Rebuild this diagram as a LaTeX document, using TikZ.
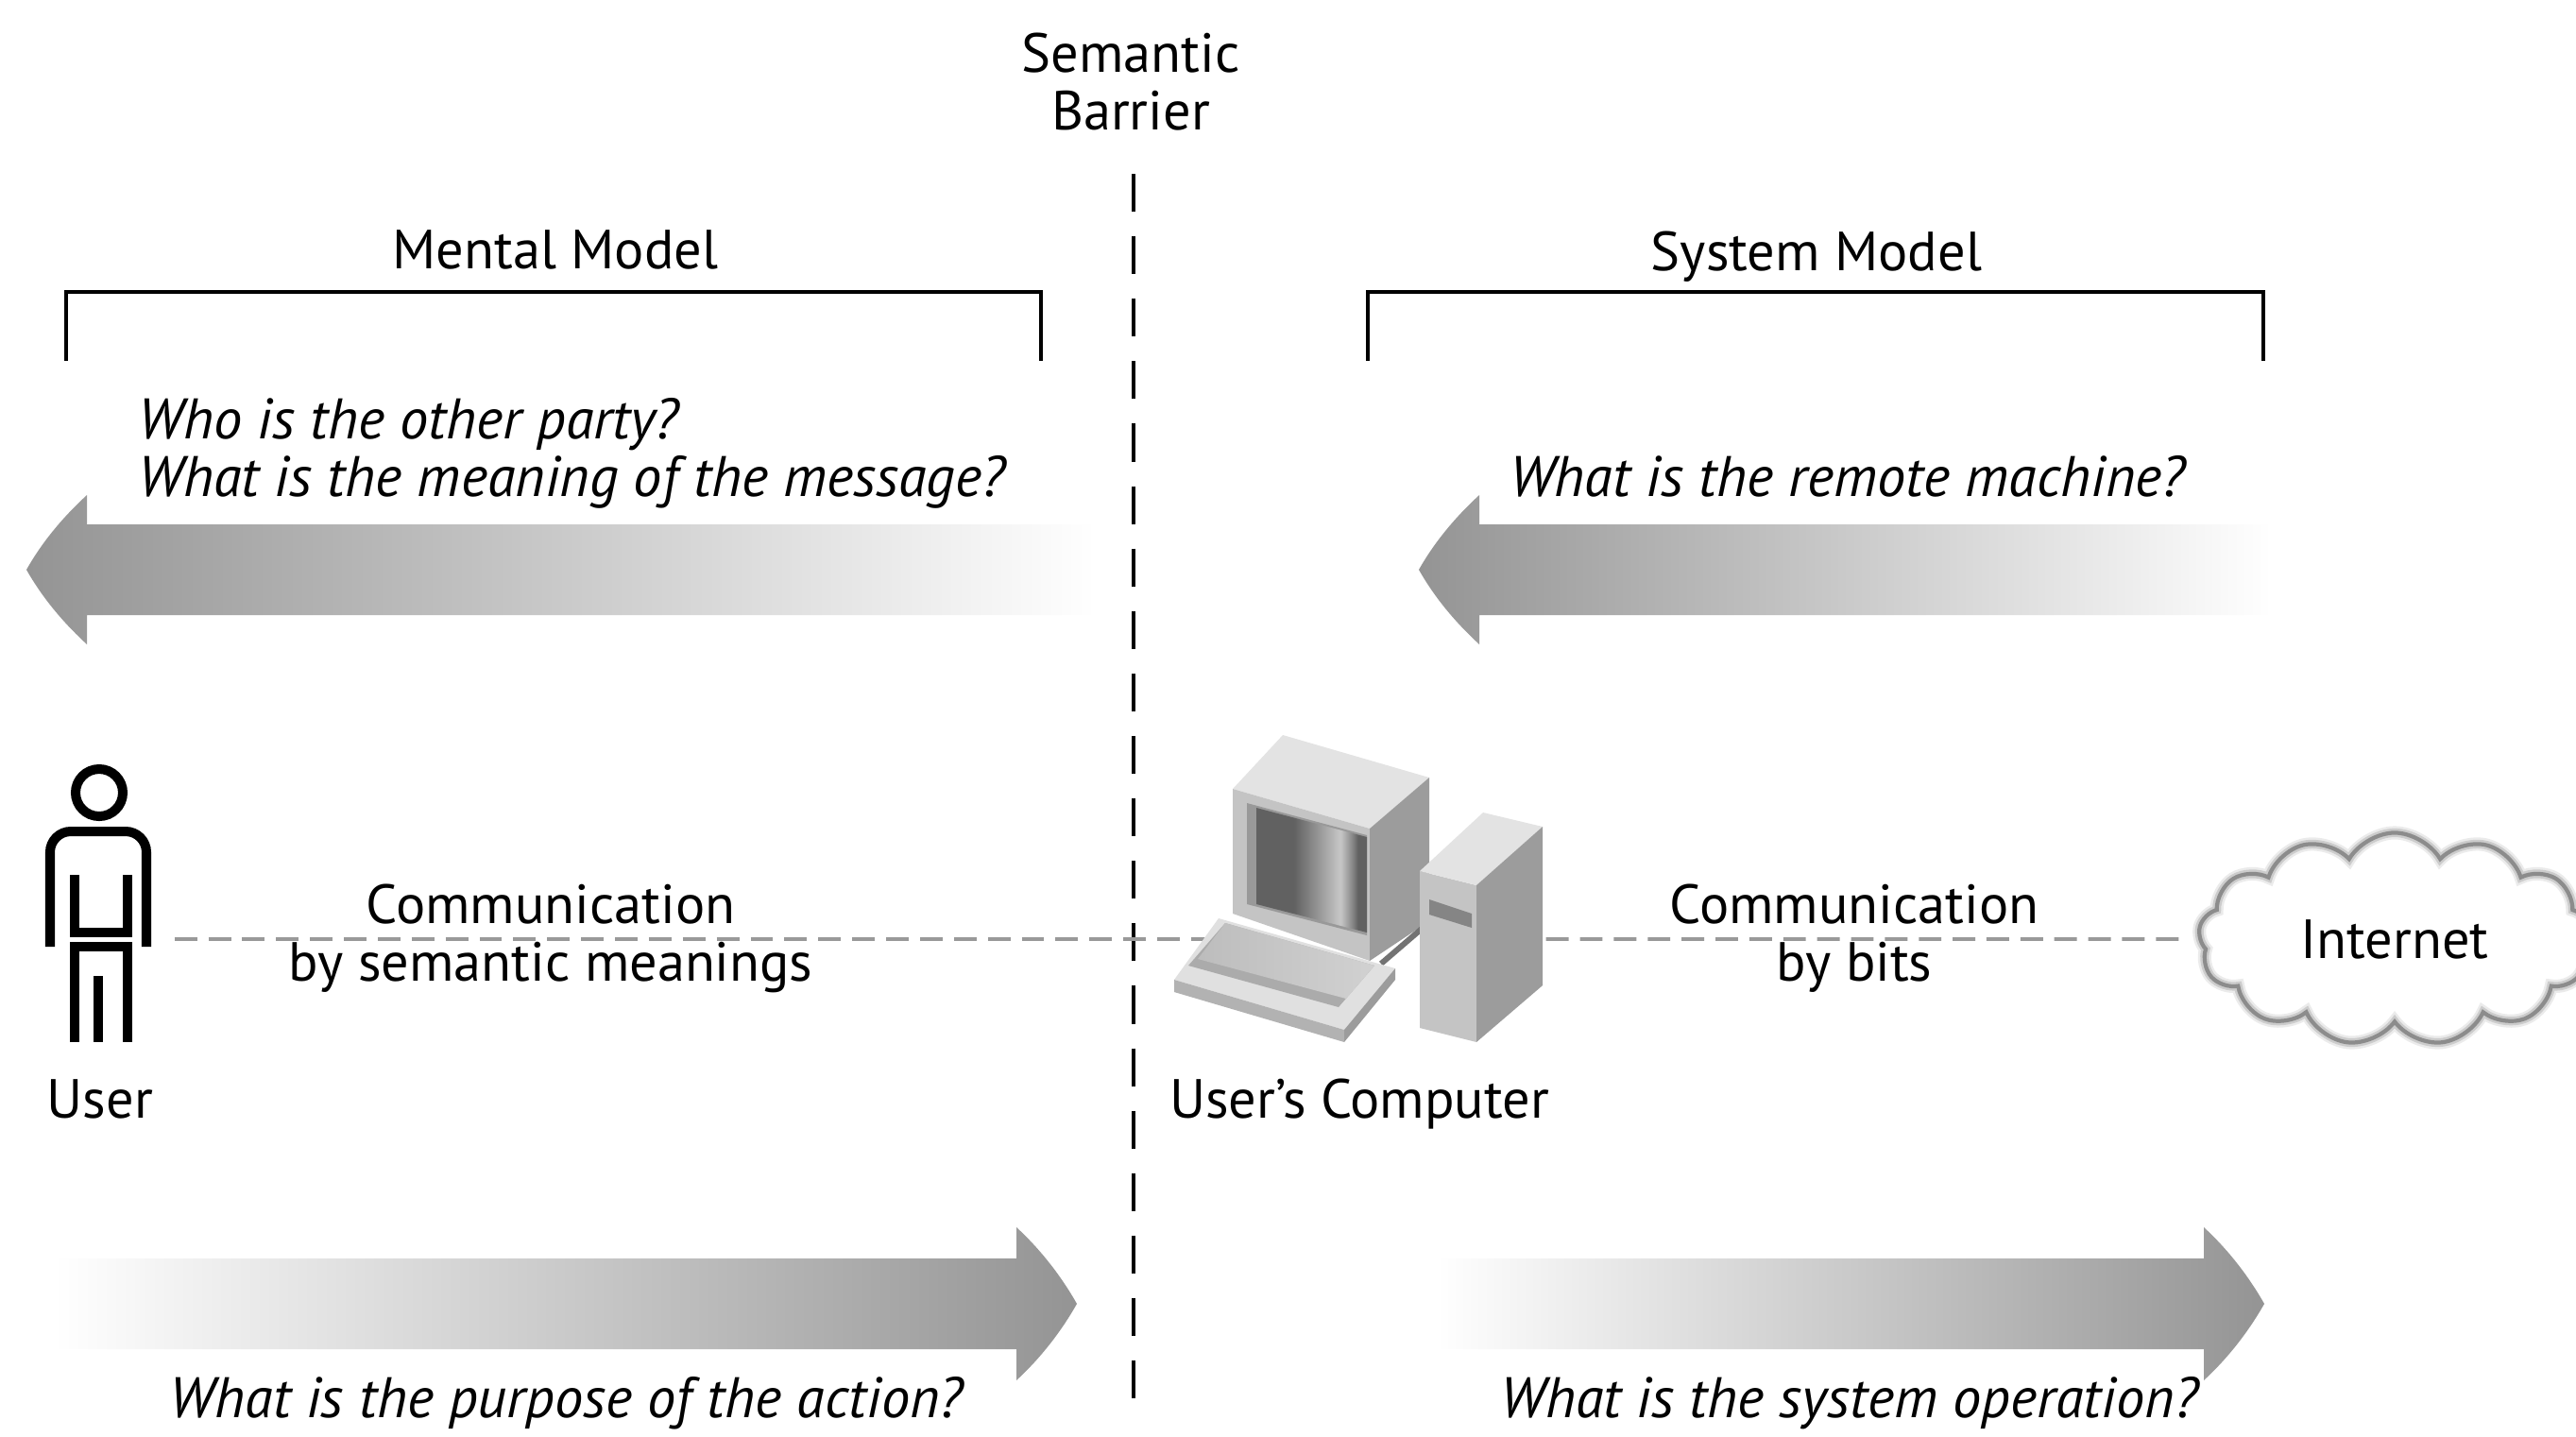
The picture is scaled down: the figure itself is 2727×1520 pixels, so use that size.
\documentclass[tikz,border=0pt]{standalone}
\usepackage{fontspec}
\setmainfont{PT Sans}
\usetikzlibrary{positioning, shapes.symbols}

\definecolor{pctop}{gray}{0.89}
\definecolor{pcfront}{gray}{0.77}
\definecolor{pcside}{gray}{0.61}
\definecolor{arrowdark}{gray}{0.58}

% screen: dark on the left, bright glare, dark rim on the right
\pgfdeclarehorizontalshading{screenshade}{100bp}{color(0bp)=(black!62); color(42bp)=(black!62); color(63bp)=(black!22); color(68bp)=(black!45); color(71bp)=(black!62); color(100bp)=(black!62)}

\tikzset{
  lbl/.style={inner sep=0pt, align=center, font=\fontsize{16.6}{17.3}\selectfont},
  question/.style={inner sep=0pt, align=left, font=\fontsize{17.2}{17.2}\selectfont\itshape},
  bracket/.style={line width=1.3pt},
  barrier/.style={line width=1.4pt, dash pattern=on 11.4pt off 7.4pt},
  commline/.style={draw=black!40, line width=1.1pt, dash pattern=on 6.8pt off 3.4pt},
  figline/.style={line width=2.85pt},
  netcloud/.style={cloud, cloud puffs=13, cloud puff arc=120, aspect=1.9, inner sep=0pt,
    minimum width=4.15cm, minimum height=2.25cm, font=\fontsize{16.6}{17.3}\selectfont,
    draw=black!45, line width=1.2pt,
    preaction={draw=black!8, line width=4pt}, preaction={draw=black!20, line width=2.6pt}},
}

\begin{document}
\begin{tikzpicture}[x=0.01cm, y=-0.01cm]
  \useasboundingbox (0,0) rectangle (2727,1520);

  % barrier down the middle
  \node[lbl, anchor=base] (sem) at (1197,137) {Semantic\\Barrier};
  \draw[barrier] (1200,184) -- (1200,1492);

  % the two models
  \node[lbl, anchor=base] (mental) at (588,284) {Mental Model};
  \draw[bracket] (70,382) |- (1102,309) -- (1102,382);
  \node[lbl, anchor=base] (system) at (1923,286) {System Model};
  \draw[bracket] (1448,382) |- (2396,309) -- (2396,382);

  % questions
  \node[question, anchor=base west] (who) at (146,525) {Who is the other party?\\What is the meaning of the message?};
  \node[question, anchor=base] (remote) at (1956,525) {What is the remote machine?};
  \node[question, anchor=base] (purpose) at (600,1500) {What is the purpose of the action?};
  \node[question, anchor=base] (operation) at (1958,1500) {What is the system operation?};

  % fat arrows pointing left
  \foreach \tip/\tail in {28/1160, 1502/2405}{
    \shade[left color=arrowdark, right color=white]
      (\tail,555) -- (\tip+64,555) -- (\tip+64,524)
      .. controls (\tip+39,547) and (\tip+17,573) .. (\tip,603)
      .. controls (\tip+17,633) and (\tip+39,659) .. (\tip+64,682)
      -- (\tip+64,651) -- (\tail,651) -- cycle;
  }
  % fat arrows pointing right
  \foreach \tail/\tip in {57/1140, 1520/2397}{
    \shade[left color=white, right color=arrowdark]
      (\tail,1332) -- (\tip-64,1332) -- (\tip-64,1299)
      .. controls (\tip-39,1322) and (\tip-17,1350) .. (\tip,1380)
      .. controls (\tip-17,1410) and (\tip-39,1438) .. (\tip-64,1461)
      -- (\tip-64,1428) -- (\tail,1428) -- cycle;
  }

  % ends of the communication lines
  \node[minimum width=1.6cm, minimum height=3cm] (user) at (104,994) {};
  \node[minimum width=3.2cm, minimum height=2.4cm] (pc) at (1440,994) {};
  \node[netcloud] (net) at (2535,994) {Internet};

  \draw[commline] (user) -- (pc);
  \draw[commline, shorten >=0.1cm] (pc) -- (net);

  \node[lbl, anchor=base] (meaning) at (583,1038) {Communication\\by semantic meanings};
  \node[lbl, anchor=base] (bits) at (1963,1038) {Communication\\by bits};

  % stick figure
  \begin{scope}[figline]
    \draw (105,839) circle[radius=25];
    \draw[rounded corners=0.22cm] (53,1002) -- (53,880) -- (155,880) -- (155,1002);
    \draw (79,926) -- (79,987) -- (135,987) -- (135,926);
    \draw (79,1103) -- (79,1002) -- (135,1002) -- (135,1103);
    \draw (104,1033) -- (104,1103);
  \end{scope}
  \node[lbl, anchor=base] (userlbl) at (106,1183) {User};

  % monitor
  \fill[pctop] (1305,835) -- (1358,778) -- (1513,823) -- (1450,877) -- cycle;
  \fill[pcfront] (1305,835) -- (1450,877) -- (1450,1017) -- (1305,967) -- cycle;
  \fill[pcside] (1450,877) -- (1513,823) -- (1513,975) -- (1450,1017) -- cycle;
  \fill[black!40] (1320,850) -- (1447,884) -- (1447,990) -- (1320,957) -- cycle;
  \shade[shading=screenshade] (1330,855) -- (1447,886) -- (1447,987) -- (1330,957) -- cycle;
  \draw[black!55, line width=1.7pt] (1462,1020) -- (1505,983);
  % keyboard
  \fill[black!12] (1290,972) -- (1477,1025) -- (1423,1090) -- (1243,1037) -- cycle;
  \fill[black!30] (1243,1037) -- (1423,1090) -- (1423,1103) -- (1243,1050) -- cycle;
  \fill[pcside] (1477,1025) -- (1477,1037) -- (1423,1103) -- (1423,1090) -- cycle;
  \fill[black!33] (1297,977) -- (1455,1022) -- (1417,1066) -- (1258,1022) -- cycle;
  \shade[left color=black!26, right color=black!18] (1297,977) -- (1455,1022) -- (1425,1057) -- (1268,1015) -- cycle;
  % tower
  \fill[pcfront] (1503,922) -- (1563,937) -- (1563,1103) -- (1503,1088) -- cycle;
  \fill[pctop] (1503,922) -- (1570,860) -- (1633,875) -- (1563,937) -- cycle;
  \fill[pcside] (1563,937) -- (1633,875) -- (1633,1043) -- (1563,1103) -- cycle;
  \fill[black!48] (1513,952) -- (1558,967) -- (1558,982) -- (1513,968) -- cycle;
  \node[lbl, anchor=base] (pclabel) at (1439,1183) {User's Computer};
\end{tikzpicture}
\end{document}
